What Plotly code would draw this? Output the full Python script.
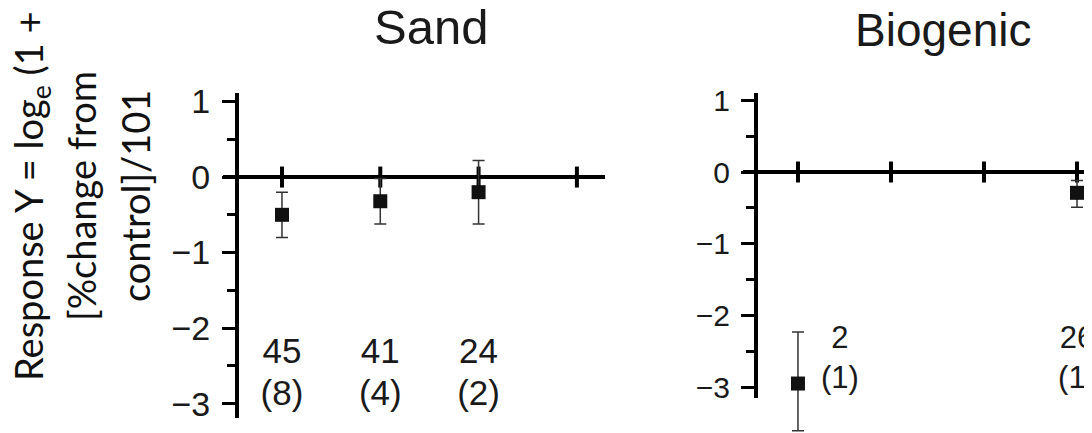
import plotly.graph_objects as go

# page body has an 8px default margin; the figure is sized to fit the window
PAGE_W, PAGE_H = 1092, 433
OFF = 8
W, H = PAGE_W - OFF, PAGE_H - OFF

# ---- data ----
tick_positions = [1, 2, 3, 4]

sand_x = [1, 2, 3]
sand_y = [-0.5, -0.32, -0.2]
sand_err_plus = [0.3, 0.3, 0.42]
sand_err_minus = [0.3, 0.3, 0.42]
sand_label_x = [1, 2, 3]
sand_counts = ["45", "41", "24"]
sand_studies = ["(8)", "(4)", "(2)"]

bio_x = [1, 4]
bio_y = [-2.95, -0.29]
bio_err_plus = [0.72, 0.17]
bio_err_minus = [0.66, 0.2]
bio_label_x = [1.45, 4.0]
bio_counts = ["2", "26"]
bio_studies = ["(1)", "(1)"]

count_label_y = -2.35
study_label_y = -2.9

titles = ["Sand", "Biogenic"]
ytitle_lines = ["Response Y = log<sub>e</sub> (1 +", "[%change from", "control]/101"]

# ---- helpers (page pixel -> paper fraction) ----
def px_x(p):
    return (p - OFF) / W

def px_y(p):
    return 1 - (p - OFF) / H

HELV = "Liberation Sans"
INK = "#1a1a1a"

fig = go.Figure()

panels = [
    dict(xa="x", ya="y", dxa="x", dya="y", x=sand_x, y=sand_y, ep=sand_err_plus,
         em=sand_err_minus, lx=sand_label_x, c=sand_counts, s=sand_studies, fs=35),
    # biogenic data sit on an invisible twin subplot with the same scale but a taller
    # plot area, so the long lower error bar is not clipped at the axis end
    dict(xa="x2", ya="y2", dxa="x3", dya="y3", x=bio_x, y=bio_y, ep=bio_err_plus,
         em=bio_err_minus, lx=bio_label_x, c=bio_counts, s=bio_studies, fs=31),
]

for p in panels:
    # tick marks crossing the zero line
    fig.add_trace(go.Scatter(
        x=tick_positions, y=[0] * len(tick_positions), mode="markers",
        xaxis=p["xa"], yaxis=p["ya"], cliponaxis=False, hoverinfo="skip",
        marker=dict(symbol="line-ns", size=15, line=dict(width=4, color="black")),
        showlegend=False))
    # points with error bars
    fig.add_trace(go.Scatter(
        x=p["x"], y=p["y"], mode="markers", xaxis=p["dxa"], yaxis=p["dya"],
        cliponaxis=False, showlegend=False,
        marker=dict(symbol="square", size=14, color="#111111"),
        error_y=dict(type="data", symmetric=False, array=p["ep"], arrayminus=p["em"],
                     color="#333333", thickness=1.5, width=6)))
    # count labels
    fig.add_trace(go.Scatter(
        x=p["lx"], y=[count_label_y] * len(p["lx"]), mode="text", text=p["c"],
        textposition="middle center", xaxis=p["xa"], yaxis=p["ya"], cliponaxis=False,
        textfont=dict(family=HELV, size=p["fs"], color=INK), showlegend=False))
    fig.add_trace(go.Scatter(
        x=p["lx"], y=[study_label_y] * len(p["lx"]), mode="text", text=p["s"],
        textposition="middle center", xaxis=p["xa"], yaxis=p["ya"], cliponaxis=False,
        textfont=dict(family=HELV, size=p["fs"], color=INK), showlegend=False))

xcommon = dict(visible=False, showgrid=False, zeroline=False, fixedrange=True, automargin=False)

def yaxis_cfg(domain, rng, pos, fs):
    return dict(
        domain=domain, range=rng, anchor="free", position=pos, automargin=False,
        tickmode="linear", tick0=0, dtick=1,
        ticks="outside", ticklen=13, tickwidth=3, tickcolor="black",
        showline=True, linewidth=4, linecolor="black",
        showgrid=False, zeroline=True, zerolinecolor="black", zerolinewidth=4,
        ticklabelstandoff=5,
        tickfont=dict(family=HELV, size=fs, color=INK),
        minor=dict(ticks="outside", ticklen=8, tickwidth=3, tickcolor="black", dtick=0.5, tick0=0),
    )

bio_xdomain = [px_x(743), 1.0]
bio_xrange = [0.409, 4.161]

fig.update_layout(
    width=W, height=H,
    margin=dict(l=0, r=0, t=0, b=0),
    paper_bgcolor="white", plot_bgcolor="rgba(0,0,0,0)",
    showlegend=False,
    xaxis=dict(domain=[px_x(223), px_x(605)], range=[0.400, 4.286], anchor="y", **xcommon),
    yaxis=yaxis_cfg([px_y(418), px_y(93)], [-3.19, 1.113], px_x(237), 34),
    xaxis2=dict(domain=bio_xdomain, range=bio_xrange, anchor="y2", **xcommon),
    yaxis2=yaxis_cfg([px_y(398), px_y(93)], [-3.152, 1.102], px_x(756), 30),
    xaxis3=dict(domain=bio_xdomain, range=bio_xrange, anchor="y3", **xcommon),
    yaxis3=dict(domain=[px_y(PAGE_H), px_y(93)], range=[-3.64, 1.102], anchor="x3",
                visible=False, showgrid=False, zeroline=False, automargin=False),
)

# panel titles
fig.add_annotation(text=titles[0], x=px_x(431), y=px_y(27), xref="paper", yref="paper",
                   xanchor="center", yanchor="middle", showarrow=False,
                   font=dict(family=HELV, size=49, color=INK))
fig.add_annotation(text=titles[1], x=px_x(943), y=px_y(30), xref="paper", yref="paper",
                   xanchor="center", yanchor="middle", showarrow=False,
                   font=dict(family=HELV, size=46, color=INK))

# rotated y-axis title (three lines)
for line, cx in zip(ytitle_lines, [31, 81, 135]):
    fig.add_annotation(text=line, x=px_x(cx), y=px_y(196), xref="paper", yref="paper",
                       xanchor="center", yanchor="middle", showarrow=False, textangle=-90,
                       font=dict(family="Lato", size=38, color="#111111"))

fig.write_html("out.html")
